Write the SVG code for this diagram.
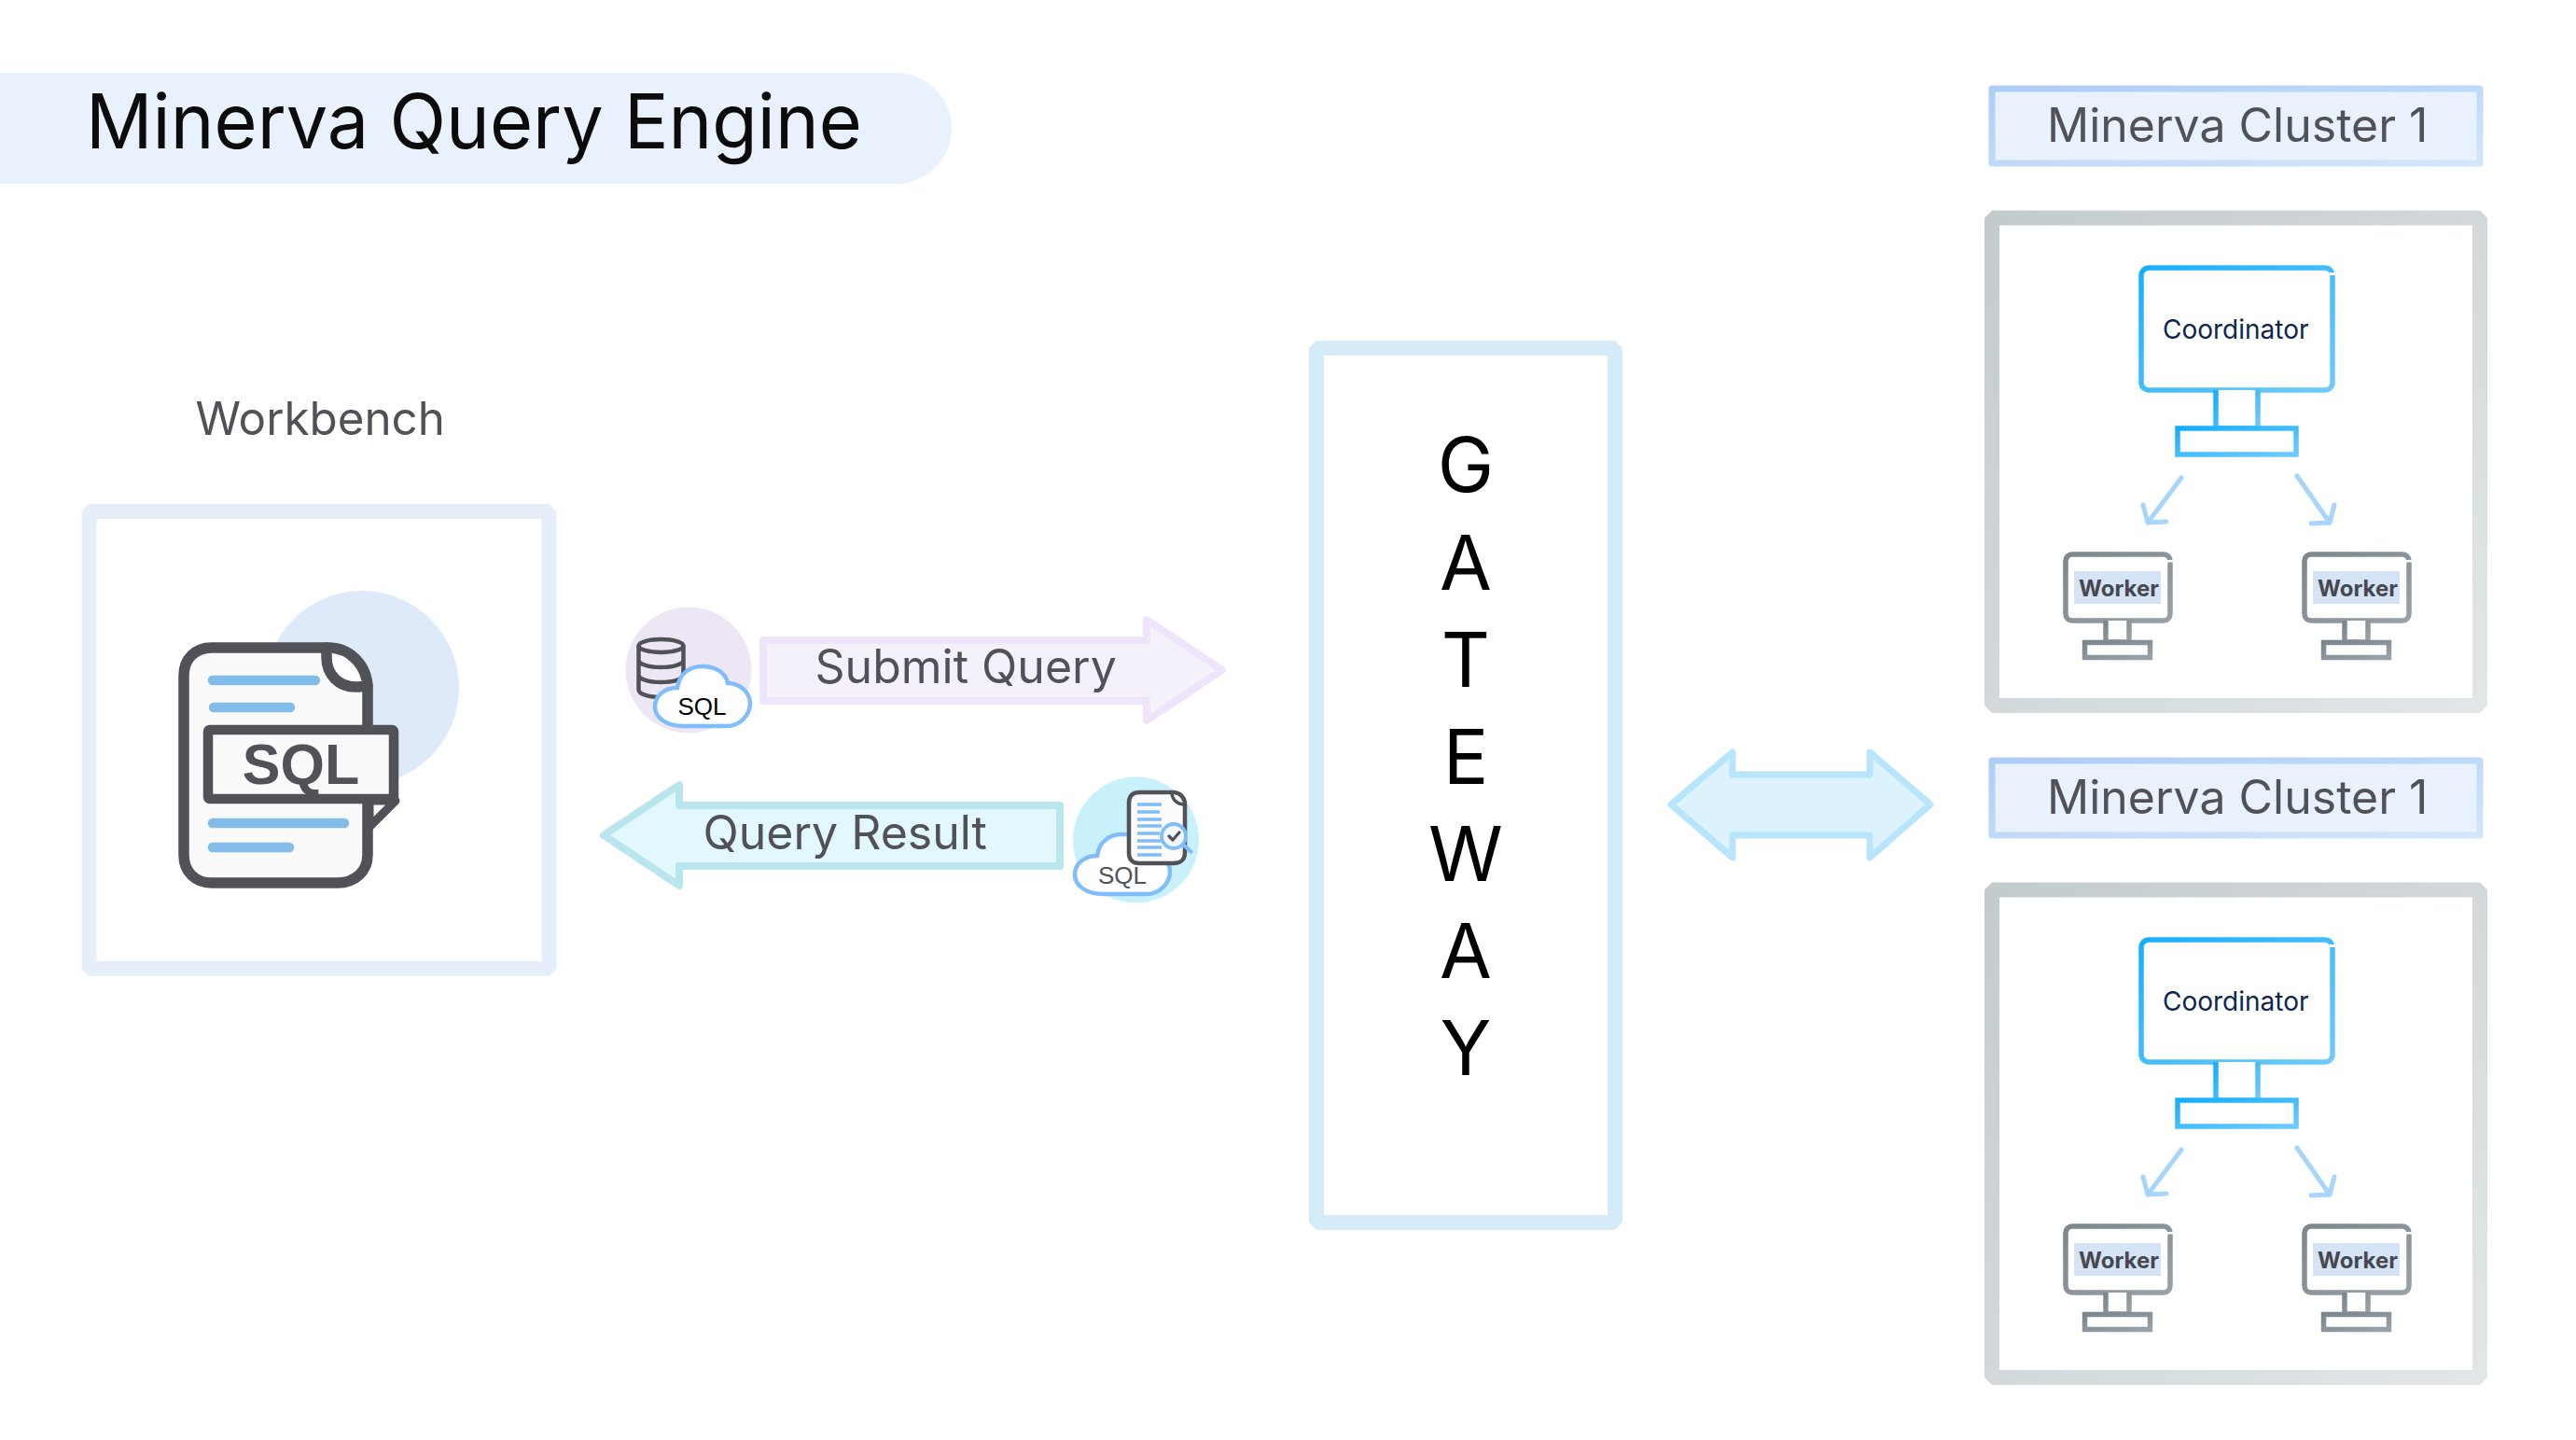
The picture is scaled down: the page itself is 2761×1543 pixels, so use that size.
<svg xmlns="http://www.w3.org/2000/svg" xmlns:xlink="http://www.w3.org/1999/xlink" width="2761" height="1543" viewBox="0 0 2761 1543">
<style>
text{font-family:"Inter","Liberation Sans",sans-serif}
.sans{font-family:"Liberation Sans",Arial,sans-serif}
.lbl{font-size:50px;fill:#505257}
.gw{font-size:81px;fill:#000;text-anchor:middle}
.coord{font-size:28px;fill:#0d2650}
.work{font-size:24px;font-weight:700;fill:#45484d}
.frame{stroke-linejoin:bevel;fill:#fff}
.hdr{fill:#e9f1fd;stroke:url(#gHdr);stroke-width:7;stroke-linejoin:round}
.box{fill:#fff;stroke:url(#gBox);stroke-width:16;stroke-linejoin:bevel}
.cm{fill:#fff;stroke:url(#gCo);stroke-width:5.5}
.wm{fill:#fff;stroke:url(#gWo);stroke-width:5.5}
.wbg{fill:#d5e3f6}
.nick{fill:#fff}
.flow{fill:none;stroke:#a8d5fb;stroke-width:5;stroke-linecap:round;stroke-linejoin:round}
.doc{stroke:#505257;stroke-linejoin:round;stroke-linecap:round}
.bl{stroke:#82bce8;stroke-width:10.5;stroke-linecap:round}
.cb{stroke:#80bdfa;stroke-width:3.4}
.cloud{fill:#fff;stroke:#80bdfa;stroke-width:4.5}
</style>
<defs>
<linearGradient id="gHdr" x1="0" y1="0" x2="1" y2="1"><stop offset="0" stop-color="#aecdf6"/><stop offset="1" stop-color="#d4e5fb"/></linearGradient>
<linearGradient id="gBox" x1="0" y1="0" x2="1" y2="1"><stop offset="0" stop-color="#c4cbcd"/><stop offset="1" stop-color="#e2e6e7"/></linearGradient>
<linearGradient id="gCo" x1="0" y1="0" x2="1" y2="1"><stop offset="0" stop-color="#18aefb"/><stop offset="1" stop-color="#6fcbfb"/></linearGradient>
<linearGradient id="gWo" x1="0" y1="0" x2="1" y2="1"><stop offset="0" stop-color="#7b878d"/><stop offset="1" stop-color="#98a2a7"/></linearGradient>
<path id="cloudShape" d="M32,65 H78 C92,65 103,53 103,41 C103,28 91,19 79,19 C77,8 66,1 52,1 C38,1 27,9 25,24 C11,24 1,33 1,44 C1,56 13,65 32,65 Z"/>
</defs>

<g id="title">
<path d="M0,78 H960 A60,59.500 0 0 1 960,197 H0 Z" fill="#e9f1fc"/>
<text x="92" y="159" font-size="81" fill="#0b0b0b" textLength="832" lengthAdjust="spacingAndGlyphs">Minerva Query Engine</text>
</g>

<g id="workbench">
<text x="209.500" y="466" class="lbl" style="font-size:49.300px">Workbench</text>
<rect class="frame" x="95.500" y="548" width="493" height="490" stroke="#e6eefa" stroke-width="16"/>
<circle cx="388" cy="737" r="104" fill="#deeafa"/>
<path class="doc" d="M227,694 H352 C376,694 394,714 394,738 V916 C394,934 380,946 362,946 H227 C209,946 197,934 197,916 V724 C197,706 209,694 227,694 Z" fill="#fafafa" stroke-width="11.500"/>
<path class="doc" d="M350,694 V704 C350,723 363,736 381,736 C386,736 390,735 394,735" fill="#fff" stroke-width="11.500"/>
<path class="bl" d="M228,729 H338 M229,758 H311 M228,882 H369 M228,908 H310"/>
<path class="doc" d="M396,858 H424 L396,886 Z" fill="#fff" stroke-width="9"/>
<rect x="223" y="782" width="199" height="74" rx="2" fill="#fafafa" stroke="#505257" stroke-width="10.500" stroke-linejoin="round"/>
<text x="322.500" y="840" class="sans" font-size="61" font-weight="700" fill="#505257" text-anchor="middle">SQL</text>
</g>

<g id="icon-sql-db">
<circle cx="738" cy="718" r="67.500" fill="#ede7f5"/>
<g fill="none" stroke="#505257" stroke-width="4.500">
<ellipse cx="708.500" cy="692" rx="24" ry="7"/>
<path d="M684.500,692 V739 C684.500,744 696,747 708.500,747 C721,747 732.500,744 732.500,739 V692 M684.500,707 C684.500,712 696,715 708.500,715 C721,715 732.500,712 732.500,707 M684.500,723 C684.500,728 696,731 708.500,731 C721,731 732.500,728 732.500,723"/>
</g>
<use href="#cloudShape" xlink:href="#cloudShape" class="cloud" x="701" y="713"/>
<text x="752.500" y="766" class="sans" font-size="26" fill="#000" text-anchor="middle">SQL</text>
</g>

<g id="icon-sql-result">
<circle cx="1217.500" cy="900" r="67.500" fill="#c9f1fb"/>
<use href="#cloudShape" xlink:href="#cloudShape" class="cloud" x="1151" y="893"/>
<path class="doc" d="M1221,849 H1257 C1265,849 1270,855 1270,862 V914 C1270,921 1265,925 1258,925 H1221 C1214,925 1210,921 1210,914 V860 C1210,853 1214,849 1221,849 Z" fill="#fbfbfb" stroke-width="4.500"/>
<path class="doc" d="M1256,849 C1256,857 1262,862 1270,862" fill="#fff" stroke-width="3.500"/>
<path class="cb" d="M1219,862 H1245 M1219,870 H1243 M1219,878 H1245 M1219,885 H1245 M1219,893 H1243 M1219,901 H1245 M1219,908 H1245 M1219,916 H1245"/>
<path d="M1268,905 L1278,914" stroke="#80bdfa" stroke-width="4"/>
<circle cx="1258" cy="896" r="13" fill="#f1f7fc" stroke="#80bdfa" stroke-width="3.800"/>
<path d="M1253,896 L1257,900 L1264,892" fill="none" stroke="#505257" stroke-width="3.200" stroke-linecap="round" stroke-linejoin="round"/>
<text x="1203" y="947" class="sans" font-size="26" fill="#505257" text-anchor="middle">SQL</text>
</g>

<g id="gateway">
<rect x="1411" y="373" width="320" height="937" fill="#fff" stroke="#d6ebf8" stroke-width="16" stroke-linejoin="bevel"/>
<text x="1571" y="527" class="gw">G</text>
<text x="1571" y="632" class="gw">A</text>
<text x="1571" y="736" class="gw">T</text>
<text x="1571" y="840" class="gw">E</text>
<text x="1571" y="944" class="gw">W</text>
<text x="1571" y="1048" class="gw">A</text>
<text x="1571" y="1152" class="gw">Y</text>
</g>

<g id="cluster-1">
<rect class="hdr" x="2135" y="95" width="523" height="80"/>
<text x="2194" y="152" class="lbl">Minerva Cluster 1</text>
<rect class="box" x="2135" y="233.500" width="523" height="522.500"/>
<g id="c1-coordinator">
<rect class="cm" x="2295" y="287" width="205" height="131" rx="8"/>
<rect class="nick" x="2497" y="292" width="6" height="3"/>
<path class="cm" d="M2375,418 V459 H2420 V418"/>
<rect class="cm" x="2334" y="459" width="127" height="28"/>
<text x="2318" y="363" class="coord">Coordinator</text>
</g>
<g id="c1-worker-1">
<rect class="wm" x="2214" y="594" width="112" height="71" rx="7"/>
<rect class="nick" x="2323" y="600" width="6" height="2.500"/>
<path class="wm" d="M2257,665 V688 H2282 V665"/>
<rect class="wm" x="2234.500" y="688.500" width="70" height="16"/>
<rect class="wbg" x="2223" y="612" width="93" height="35"/>
<text x="2228" y="639" class="work">Worker</text>
</g>
<g id="c1-worker-2">
<rect class="wm" x="2470" y="594" width="112" height="71" rx="7"/>
<rect class="nick" x="2579" y="600" width="6" height="2.500"/>
<path class="wm" d="M2513,665 V688 H2538 V665"/>
<rect class="wm" x="2490.500" y="688.500" width="70" height="16"/>
<rect class="wbg" x="2479" y="612" width="93" height="35"/>
<text x="2484" y="639" class="work">Worker</text>
</g>
</g>

<g id="cluster-2" transform="translate(0,720)">
<rect class="hdr" x="2135" y="95" width="523" height="80"/>
<text x="2194" y="152" class="lbl">Minerva Cluster 1</text>
<rect class="box" x="2135" y="233.500" width="523" height="522.500"/>
<g id="c2-coordinator">
<rect class="cm" x="2295" y="287" width="205" height="131" rx="8"/>
<rect class="nick" x="2497" y="292" width="6" height="3"/>
<path class="cm" d="M2375,418 V459 H2420 V418"/>
<rect class="cm" x="2334" y="459" width="127" height="28"/>
<text x="2318" y="363" class="coord">Coordinator</text>
</g>
<g id="c2-worker-1">
<rect class="wm" x="2214" y="594" width="112" height="71" rx="7"/>
<rect class="nick" x="2323" y="600" width="6" height="2.500"/>
<path class="wm" d="M2257,665 V688 H2282 V665"/>
<rect class="wm" x="2234.500" y="688.500" width="70" height="16"/>
<rect class="wbg" x="2223" y="612" width="93" height="35"/>
<text x="2228" y="639" class="work">Worker</text>
</g>
<g id="c2-worker-2">
<rect class="wm" x="2470" y="594" width="112" height="71" rx="7"/>
<rect class="nick" x="2579" y="600" width="6" height="2.500"/>
<path class="wm" d="M2513,665 V688 H2538 V665"/>
<rect class="wm" x="2490.500" y="688.500" width="70" height="16"/>
<rect class="wbg" x="2479" y="612" width="93" height="35"/>
<text x="2484" y="639" class="work">Worker</text>
</g>
</g>

<g id="connectors">
<g id="submit-query">
<path d="M818,686 H1229 V664 L1310,718 L1229,772 V751 H818 Z" fill="#f4f1fa" stroke="#eee5fb" stroke-width="8" stroke-linejoin="round"/>
<text x="873.500" y="732" class="lbl">Submit Query</text>
</g>
<g id="query-result">
<path d="M647,895 L728,841 V863 H1136 V928 H728 V949 Z" fill="#e3f8fe" stroke="#b8e6ec" stroke-width="8" stroke-linejoin="round"/>
<text x="753.500" y="910" class="lbl">Query Result</text>
</g>
<path id="gateway-clusters" d="M1791,862 L1857,806 V830 H2004 V806 L2069,862 L2004,919 V895 H1857 V919 Z" fill="#dcf3fe" stroke="#b8e5fc" stroke-width="7" stroke-linejoin="round"/>
<path class="flow" d="M2338,512 L2302,560 M2297,541 L2302,560 L2322,559 M2462,510 L2497,560 M2502,541 L2497,560 L2477,561"/>
<path class="flow" transform="translate(0,720)" d="M2338,512 L2302,560 M2297,541 L2302,560 L2322,559 M2462,510 L2497,560 M2502,541 L2497,560 L2477,561"/>
</g>
</svg>
